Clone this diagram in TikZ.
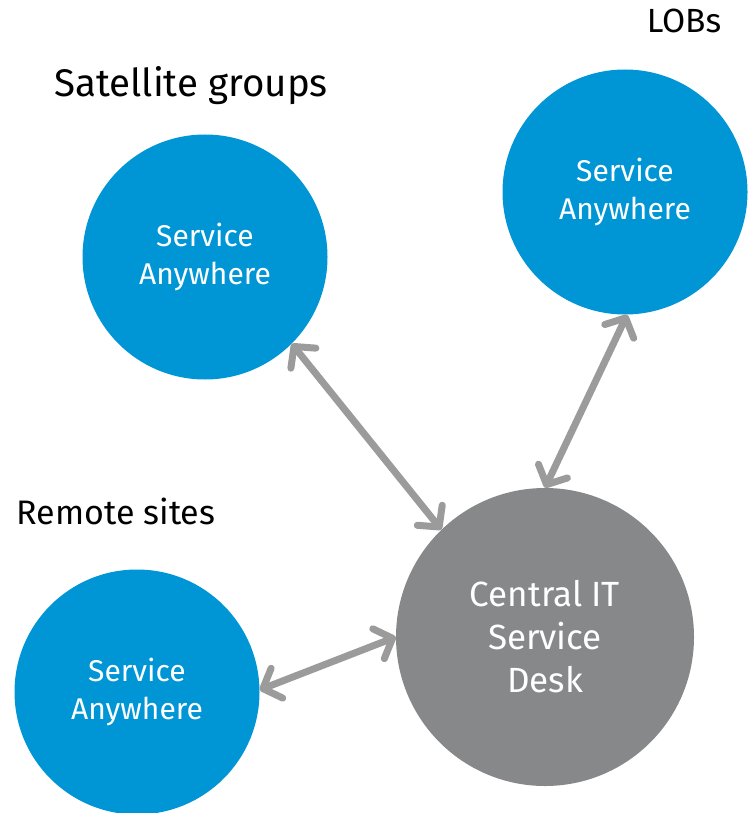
\documentclass[tikz,border=0pt]{standalone}
\usepackage{fontspec}
\setmainfont{Fira Sans}
\usetikzlibrary{arrows.meta}
\definecolor{hpblue}{HTML}{0096D6}
\definecolor{hpgray}{HTML}{87888A}
\definecolor{arrowgray}{HTML}{9B9B9B}
\tikzset{
  bluecircle/.style={circle, fill=hpblue, inner sep=0pt, minimum size=245pt, text=white, align=center, font=\fontsize{30}{38}\selectfont},
  graycircle/.style={circle, fill=hpgray, inner sep=0pt, minimum size=298pt, text=white, align=center, font=\fontsize{35}{43}\selectfont},
  link/.style={draw=arrowgray, line width=7pt, line cap=round, {Straight Barb[length=15pt,width=32pt,round]}-{Straight Barb[length=15pt,width=32pt,round]}},
  grouplabel/.style={text=black, inner sep=0pt}
}
\begin{document}
\begin{tikzpicture}[x=1pt,y=-1pt]
\useasboundingbox (0,0) rectangle (748,813);
\node[bluecircle] (sat) at (205,257) {Service\\Anywhere};
\node[bluecircle] (lob) at (625,192) {Service\\Anywhere};
\node[bluecircle] (rem) at (137,692) {Service\\Anywhere};
\node[graycircle] (central) at (545,637) {Central IT\\Service\\Desk};
\node[grouplabel, font=\fontsize{38.5}{42}\selectfont] (satl) at (191,86) {Satellite groups};
\node[grouplabel, font=\fontsize{34}{38}\selectfont] (reml) at (116,511) {Remote sites};
\node[grouplabel, font=\fontsize{33.5}{38}\selectfont] (lobl) at (684,21) {LOBs};
\draw[link] (sat.-45) -- (central.134.7);
\draw[link] (lob.-89) -- (central.90);
\draw[link] (rem.1) -- (central.180);
\end{tikzpicture}
\end{document}
